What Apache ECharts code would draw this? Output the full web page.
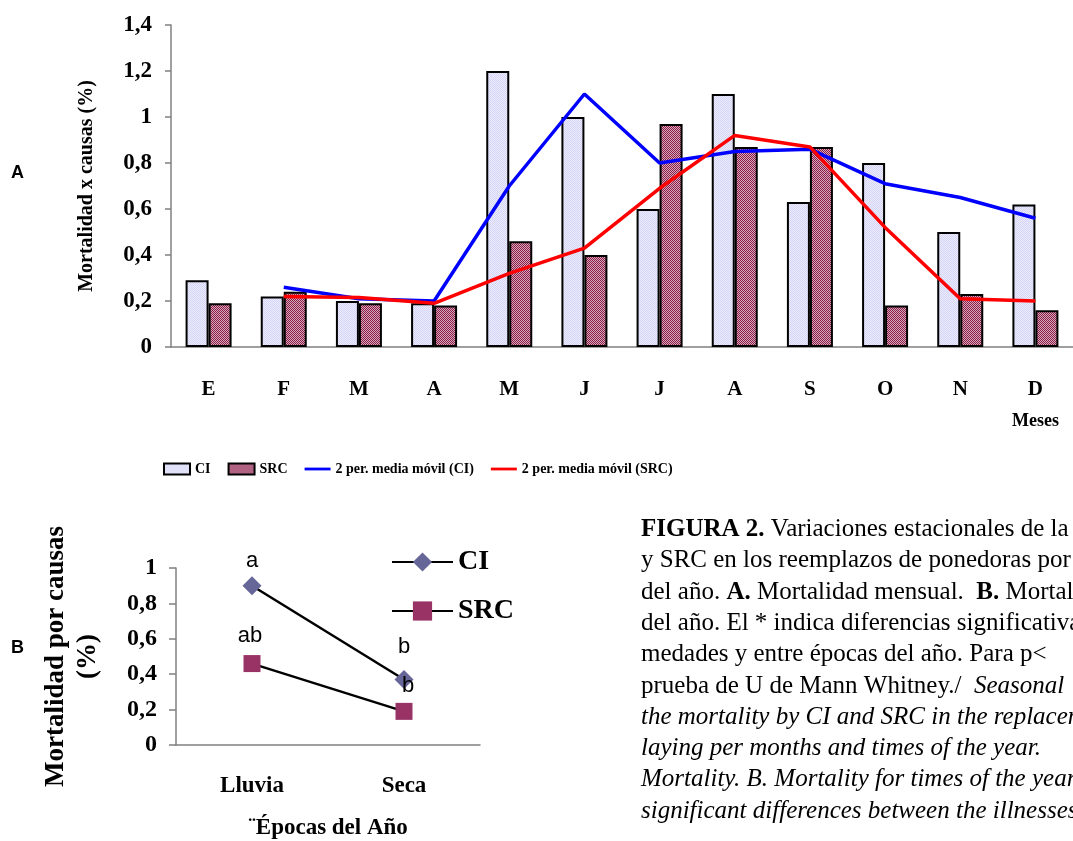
<!DOCTYPE html>
<html>
<head>
<meta charset="utf-8">
<title>Figura 2</title>
<script src="https://cdn.jsdelivr.net/npm/echarts@6/dist/echarts.min.js"></script>
<style>
    html, body { margin: 0; padding: 0; background: #fff; }
    #chart { width: 1073px; height: 841px; }
</style>
</head>
<body>
<div id="chart"></div>
<script>
// A. mortalidad mensual
var meses = ['E', 'F', 'M', 'A', 'M', 'J', 'J', 'A', 'S', 'O', 'N', 'D'];
var ciMensual = [0.29, 0.22, 0.2, 0.19, 1.2, 1.0, 0.6, 1.1, 0.63, 0.8, 0.5, 0.62];
var srcMensual = [0.19, 0.24, 0.19, 0.18, 0.46, 0.4, 0.97, 0.87, 0.87, 0.18, 0.23, 0.16];
var mediaMovilCI = ['-', 0.26, 0.21, 0.2, 0.7, 1.1, 0.8, 0.85, 0.86, 0.71, 0.65, 0.56];
var mediaMovilSRC = ['-', 0.22, 0.215, 0.19, 0.32, 0.43, 0.69, 0.92, 0.87, 0.52, 0.21, 0.2];

// B. mortalidad por epocas
var epocas = ['Lluvia', 'Seca'];
var ciEpoca = [0.9, 0.37];
var srcEpoca = [0.46, 0.19];
var letrasCI = ['a', 'b'];
var letrasSRC = ['ab', 'b'];

var serif = "'Liberation Serif', 'Times New Roman', serif";
var sans = "'Liberation Sans', Arial, sans-serif";

// tramas de las barras
function trama(c1, c2) {
    var cv = document.createElement('canvas');
    cv.width = 2;
    cv.height = 2;
    var ctx = cv.getContext('2d');
    ctx.fillStyle = c1;
    ctx.fillRect(0, 0, 2, 2);
    ctx.fillStyle = c2;
    ctx.fillRect(0, 0, 1, 1);
    ctx.fillRect(1, 1, 1, 1);
    return {image: cv, repeat: 'repeat'};
}
var tramaCI = trama('#ececfc', '#d4d4f4');
var tramaSRC = trama('#d8a8bc', '#8a1c48');

function coma(v) {
    return (Math.round(v * 10) / 10).toString().replace('.', ',');
}

function etiquetas(valores, letras, ajustes) {
    return valores.map(function (v, i) {
        return {
            value: v,
            label: {
                show: true,
                formatter: letras[i],
                position: 'top',
                distance: ajustes[i][0],
                offset: [ajustes[i][1], 0],
                fontFamily: sans,
                fontSize: 22,
                color: '#000'
            }
        };
    });
}

var gris = '#808080';

var option = {
    animation: false,
    backgroundColor: '#fff',
    grid: [
        {left: 171, top: 25, width: 905, height: 322},
        {left: 176, top: 568, width: 304, height: 181}
    ],
    xAxis: [
        {
            type: 'category',
            gridIndex: 0,
            data: meses,
            axisLine: {lineStyle: {color: gris, width: 1.5}},
            axisTick: {length: 8, lineStyle: {color: gris, width: 1.5}},
            axisLabel: {
                margin: 32, color: '#000', fontFamily: serif,
                fontWeight: 'bold', fontSize: 21
            }
        },
        {
            type: 'category',
            gridIndex: 1,
            data: epocas,
            name: '¨Épocas del Año',
            nameLocation: 'middle',
            nameGap: 72,
            nameTextStyle: {color: '#000', fontFamily: serif, fontWeight: 'bold', fontSize: 23},
            axisLine: {lineStyle: {color: gris, width: 1.5}},
            axisTick: {length: 8, lineStyle: {color: gris, width: 1.5}},
            axisLabel: {
                margin: 30, color: '#000', fontFamily: serif,
                fontWeight: 'bold', fontSize: 23
            }
        }
    ],
    yAxis: [
        {
            type: 'value',
            gridIndex: 0,
            min: 0,
            max: 1.4,
            interval: 0.2,
            name: 'Mortalidad x causas (%)',
            nameLocation: 'middle',
            nameGap: 74,
            nameTextStyle: {color: '#000', fontFamily: serif, fontWeight: 'bold', fontSize: 20},
            splitLine: {show: false},
            axisLine: {show: true, lineStyle: {color: gris, width: 1.5}},
            axisTick: {show: true, length: 6, lineStyle: {color: gris, width: 1.5}},
            axisLabel: {
                margin: 19, color: '#000', fontFamily: serif,
                fontWeight: 'bold', fontSize: 23, formatter: coma
            }
        },
        {
            type: 'value',
            gridIndex: 1,
            min: 0,
            max: 1,
            interval: 0.2,
            name: 'Mortalidad por causas\n(%)',
            nameLocation: 'middle',
            nameGap: 72,
            nameTextStyle: {
                color: '#000', fontFamily: serif, fontWeight: 'bold',
                fontSize: 27, lineHeight: 32
            },
            splitLine: {show: false},
            axisLine: {show: true, lineStyle: {color: gris, width: 1.5}},
            axisTick: {show: true, length: 7, lineStyle: {color: gris, width: 1.5}},
            axisLabel: {
                margin: 19, color: '#000', fontFamily: serif,
                fontWeight: 'bold', fontSize: 24, formatter: coma
            }
        }
    ],
    legend: [
        {
            left: 158,
            top: 457,
            itemWidth: 26,
            itemHeight: 11,
            itemGap: 17,
            textStyle: {color: '#000', fontFamily: serif, fontWeight: 'bold', fontSize: 14},
            data: [
                {name: 'CI', icon: 'rect'},
                {name: 'SRC', icon: 'rect'},
                {name: '2 per. media móvil (CI)', icon: 'path://M0,0 L28,0 L28,3 L0,3 Z'},
                {name: '2 per. media móvil (SRC)', icon: 'path://M0,0 L28,0 L28,3 L0,3 Z'}
            ]
        },
        {
            left: 386,
            top: 543,
            orient: 'vertical',
            itemWidth: 61,
            itemHeight: 24,
            itemGap: 21,
            formatter: function (n) { return n.trim(); },
            textStyle: {color: '#000', fontFamily: serif, fontWeight: 'bold', fontSize: 28},
            data: ['CI ', 'SRC ']
        }
    ],
    series: [
        {
            name: 'CI',
            type: 'bar',
            xAxisIndex: 0,
            yAxisIndex: 0,
            data: ciMensual,
            barWidth: 23,
            barGap: '0%',
            itemStyle: {color: tramaCI, borderColor: '#000', borderWidth: 2}
        },
        {
            name: 'SRC',
            type: 'bar',
            xAxisIndex: 0,
            yAxisIndex: 0,
            data: srcMensual,
            barWidth: 23,
            barGap: '0%',
            itemStyle: {color: tramaSRC, borderColor: '#000', borderWidth: 2}
        },
        {
            name: '2 per. media móvil (CI)',
            type: 'line',
            xAxisIndex: 0,
            yAxisIndex: 0,
            data: mediaMovilCI,
            symbol: 'none',
            itemStyle: {color: '#0000ff'},
            lineStyle: {color: '#0000ff', width: 3.5}
        },
        {
            name: '2 per. media móvil (SRC)',
            type: 'line',
            xAxisIndex: 0,
            yAxisIndex: 0,
            data: mediaMovilSRC,
            symbol: 'none',
            itemStyle: {color: '#ff0000'},
            lineStyle: {color: '#ff0000', width: 3.5}
        },
        {
            name: 'CI ',
            type: 'line',
            xAxisIndex: 1,
            yAxisIndex: 1,
            data: etiquetas(ciEpoca, letrasCI, [[4, 0], [12, 0]]),
            symbol: 'diamond',
            symbolSize: 19,
            itemStyle: {color: '#666699'},
            lineStyle: {color: '#000', width: 2.5}
        },
        {
            name: 'SRC ',
            type: 'line',
            xAxisIndex: 1,
            yAxisIndex: 1,
            data: etiquetas(srcEpoca, letrasSRC, [[8, -2], [6, 4]]),
            symbol: 'rect',
            symbolSize: 17,
            itemStyle: {color: '#993366'},
            lineStyle: {color: '#000', width: 2.5}
        }
    ],
    graphic: [
        {type: 'text', left: 11, top: 164, style: {text: 'A', font: 'bold 18px ' + sans, fill: '#000'}},
        {type: 'text', left: 11, top: 639, style: {text: 'B', font: 'bold 18px ' + sans, fill: '#000'}},
        {type: 'text', left: 1012, top: 412, style: {text: 'Meses', font: 'bold 18px ' + serif, fill: '#000'}}
    ]
};

// pie de figura
var pie = [
    '{b|FIGURA 2.} Variaciones estacionales de la',
    'y SRC en los reemplazos de ponedoras por',
    'del año. {b|A.} Mortalidad mensual.  {b|B.} Mortalidad',
    'del año. El * indica diferencias significativas',
    'medades y entre épocas del año. Para p<',
    'prueba de U de Mann Whitney./  {i|Seasonal}',
    '{i|the mortality by CI and SRC in the replacements}',
    '{i|laying per months and times of the year.}',
    '{i|Mortality. B. Mortality for times of the year.}',
    '{i|significant differences between the illnesses}'
];
pie.forEach(function (t, i) {
    option.graphic.push({
        type: 'text',
        left: 641,
        top: 517 + i * 31.3,
        style: {
            text: t,
            fontFamily: serif,
            fontSize: 25,
            fill: '#000',
            rich: {
                b: {fontFamily: serif, fontSize: 25, fontWeight: 'bold'},
                i: {fontFamily: serif, fontSize: 25, fontStyle: 'italic'}
            }
        }
    });
});

var chart = echarts.init(document.getElementById('chart'));
chart.setOption(option);
</script>
</body>
</html>
